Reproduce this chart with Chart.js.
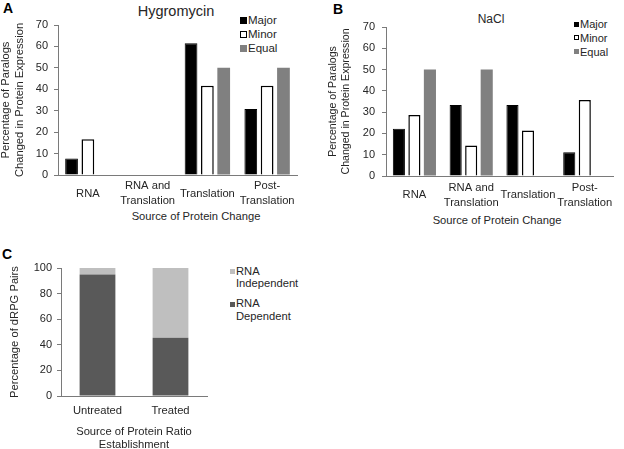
<!DOCTYPE html>
<html>
<head>
<meta charset="utf-8">
<script src="https://cdn.jsdelivr.net/npm/chart.js@4.4.0/dist/chart.umd.min.js"></script>
<style>
  html, body { margin: 0; padding: 0; width: 624px; height: 449px; overflow: hidden; background: #fff; }
  body { position: relative; font-family: "Liberation Sans", Arial, sans-serif; color: #262626; }
  canvas { position: absolute; }
  .lbl { position: absolute; white-space: nowrap; line-height: 1; transform: translateY(-50%); }
  .mid { transform: translate(-50%, -50%); }
  .panel { position: absolute; font-weight: bold; font-size: 14px; color: #000; line-height: 1; }
  .sw { position: absolute; box-sizing: border-box; }
</style>
</head>
<body>
<div class="panel" style="left:3px;top:1px">A</div>
<div class="panel" style="left:333px;top:2px">B</div>
<div class="panel" style="left:2px;top:247px">C</div>

<div class="lbl mid" style="left:176px;top:11px;font-size:14.5px">Hygromycin</div>
<div class="lbl mid" style="left:491px;top:19px;font-size:12px">NaCl</div>
<div class="lbl mid" style="left:196px;top:217px;font-size:11.2px">Source of Protein Change</div>
<div class="lbl mid" style="left:497px;top:221px;font-size:11.2px">Source of Protein Change</div>

<!-- legend A -->
<div class="sw" style="left:240px;top:17px;width:7px;height:7px;background:#000"></div>
<div class="lbl" style="left:248px;top:21px;font-size:11.5px">Major</div>
<div class="sw" style="left:240px;top:31px;width:7px;height:7px;background:#fff;border:1px solid #000"></div>
<div class="lbl" style="left:248px;top:34.5px;font-size:11.5px">Minor</div>
<div class="sw" style="left:240px;top:45px;width:7px;height:7px;background:#808080"></div>
<div class="lbl" style="left:248px;top:48.5px;font-size:11.5px">Equal</div>

<!-- legend B -->
<div class="sw" style="left:574px;top:21.5px;width:5px;height:5px;background:#000"></div>
<div class="lbl" style="left:580px;top:24px;font-size:11px">Major</div>
<div class="sw" style="left:574px;top:35px;width:5px;height:5px;background:#fff;border:1px solid #000"></div>
<div class="lbl" style="left:580px;top:38px;font-size:11px">Minor</div>
<div class="sw" style="left:574px;top:49px;width:5px;height:5px;background:#808080"></div>
<div class="lbl" style="left:580px;top:52px;font-size:11px">Equal</div>

<!-- legend C -->
<div class="sw" style="left:230px;top:269px;width:5px;height:5px;background:#bfbfbf"></div>
<div class="lbl" style="left:236px;top:272px;font-size:11.2px">RNA</div>
<div class="lbl" style="left:236px;top:284px;font-size:11.2px">Independent</div>
<div class="sw" style="left:230px;top:301.5px;width:5px;height:5px;background:#595959"></div>
<div class="lbl" style="left:236px;top:304px;font-size:11.2px">RNA</div>
<div class="lbl" style="left:236px;top:316.5px;font-size:11.2px">Dependent</div>

<canvas id="hygro" width="310" height="232" style="left:0;top:0"></canvas>
<canvas id="nacl" width="314" height="232" style="left:310px;top:0"></canvas>
<canvas id="pairs" width="230" height="215" style="left:0;top:237px"></canvas>

<script>
const categories = ['RNA', ['RNA and', 'Translation'], 'Translation', ['Post-', 'Translation']];
const hygroMajor = [7.7, 0, 61.5, 30.8];
const hygroMinor = [16.7, 0, 41.7, 41.7];
const hygroEqual = [0, 0, 50, 50];
const naclMajor = [22.2, 33.3, 33.3, 11.1];
const naclMinor = [28.6, 14.3, 21.4, 35.7];
const naclEqual = [50, 50, 0, 0];
const paralogTicks = [0, 10, 20, 30, 40, 50, 60, 70];

const conditions = ['Untreated', 'Treated'];
const rnaDependent = [95, 45.5];
const rnaIndependent = [5, 54.5];
const pairTicks = [0, 20, 40, 60, 80, 100];

const textColor = '#262626';
const axisColor = '#7a7a7a';
const fontFamily = '"Liberation Sans", Arial, sans-serif';

Chart.defaults.font.family = fontFamily;
Chart.defaults.color = textColor;

function tickRange(ticks) {
    return { min: ticks[0], max: ticks[ticks.length - 1], stepSize: ticks[1] - ticks[0] };
}

// box = pixel layout of one panel inside its canvas
function paralogChart(id, major, minor, equal, box) {
    const range = tickRange(paralogTicks);
    return new Chart(document.getElementById(id), {
        type: 'bar',
        data: {
            labels: categories,
            datasets: [
                { label: 'Major', data: major, backgroundColor: '#000', borderColor: '#000', borderWidth: 1 },
                { label: 'Minor', data: minor, backgroundColor: '#fff', borderColor: '#000', borderWidth: 1.5 },
                { label: 'Equal', data: equal, backgroundColor: '#808080', borderWidth: 0 },
            ],
        },
        options: {
            responsive: false,
            animation: false,
            layout: { padding: box.padding },
            datasets: { bar: { categoryPercentage: 0.82, barPercentage: 0.78 } },
            plugins: { legend: { display: false }, tooltip: { enabled: false } },
            scales: {
                x: {
                    grid: { display: false, drawTicks: false },
                    border: { color: axisColor },
                    ticks: {
                        font: { size: 11.2, lineHeight: 1.35 },
                        padding: box.xTickPad,
                        crossAlign: 'center',
                        maxRotation: 0,
                        autoSkip: false,
                    },
                    afterFit: (s) => { s.height = box.xHeight; },
                },
                y: {
                    min: range.min,
                    max: range.max,
                    ticks: { stepSize: range.stepSize, font: { size: 11 }, padding: box.yTickPad },
                    grid: { drawOnChartArea: false, tickLength: 4, color: axisColor },
                    border: { color: axisColor },
                    title: {
                        display: true,
                        text: ['Percentage of Paralogs', 'Changed in Protein Expression'],
                        font: { size: box.yTitleSize, lineHeight: box.yTitleLine },
                        padding: { top: box.yTitlePad, bottom: 0 },
                    },
                    afterFit: (s) => { s.width = box.yWidth; },
                },
            },
        },
    });
}

paralogChart('hygro', hygroMajor, hygroMinor, hygroEqual, {
    padding: { left: 0, top: 25, right: 13, bottom: 0 },
    yWidth: 58, xHeight: 57, xTickPad: 11, yTickPad: 6,
    yTitleSize: 11.2, yTitleLine: 1.3, yTitlePad: -1.5,
});

paralogChart('nacl', naclMajor, naclMinor, naclEqual, {
    padding: { left: 16, top: 27, right: 2, bottom: 0 },
    yWidth: 60, xHeight: 56, xTickPad: 11.5, yTickPad: 7,
    yTitleSize: 10.6, yTitleLine: 1.17, yTitlePad: 1,
});

const pairRange = tickRange(pairTicks);
new Chart(document.getElementById('pairs'), {
    type: 'bar',
    data: {
        labels: conditions,
        datasets: [
            { label: 'RNA Dependent', data: rnaDependent, backgroundColor: '#595959' },
            { label: 'RNA Independent', data: rnaIndependent, backgroundColor: '#bfbfbf' },
        ],
    },
    options: {
        responsive: false,
        animation: false,
        layout: { padding: { left: 8, top: 31, right: 23, bottom: 0 } },
        datasets: { bar: { categoryPercentage: 0.7, barPercentage: 0.7 } },
        plugins: { legend: { display: false }, tooltip: { enabled: false } },
        scales: {
            x: {
                stacked: true,
                grid: { display: false, drawTicks: false },
                border: { color: axisColor },
                ticks: { font: { size: 11.2 }, padding: 8 },
                title: {
                    display: true,
                    text: ['Source of Protein Ratio', 'Establishment'],
                    font: { size: 11.2, lineHeight: 1.19 },
                    padding: { top: 0, bottom: 0.3 },
                },
                afterFit: (s) => { s.height = 56; },
            },
            y: {
                stacked: true,
                min: pairRange.min,
                max: pairRange.max,
                ticks: { stepSize: pairRange.stepSize, font: { size: 11 }, padding: 5 },
                grid: { drawOnChartArea: false, tickLength: 4, color: axisColor },
                border: { color: axisColor },
                title: {
                    display: true,
                    text: 'Percentage of dRPG Pairs',
                    font: { size: 11.2, lineHeight: 1.2 },
                    padding: { top: 0.3, bottom: 0 },
                },
                afterFit: (s) => { s.width = 53; },
            },
        },
    },
});
</script>
</body>
</html>
